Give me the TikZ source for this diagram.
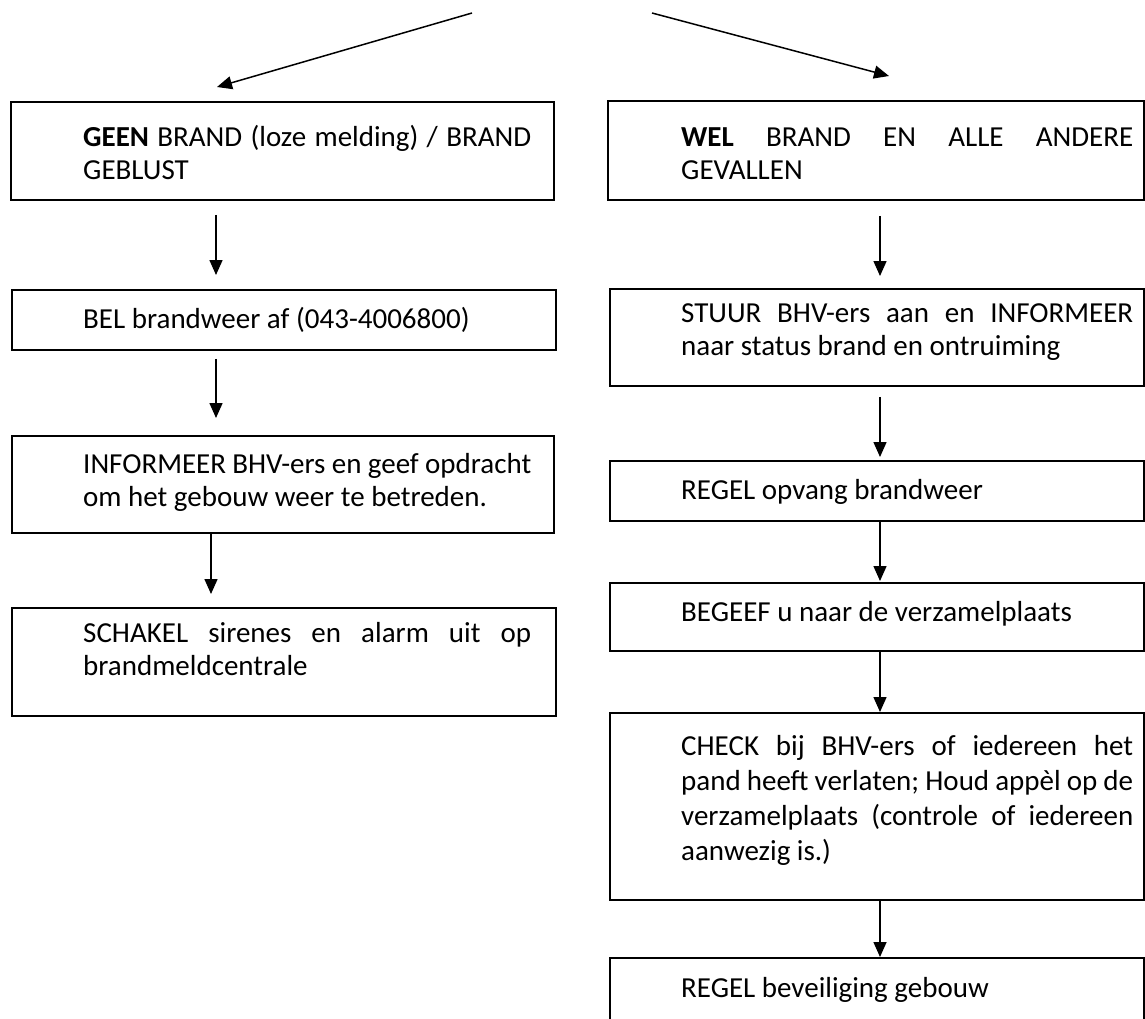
\documentclass[tikz,border=0pt]{standalone}
\usepackage{fontspec}
\setmainfont{Carlito}
\usetikzlibrary{arrows.meta,calc}
\newcommand\myjustL[1]{\hbox to 448pt{#1}}
\newcommand\myjustR[1]{\hbox to 452pt{#1}}
\begin{document}
\begin{tikzpicture}[x=1pt,y=-1pt,
  flowbox/.style={draw, line width=1.8pt, inner sep=0pt, anchor=north west},
  flowarrow/.style={line width=1.5pt, -{Triangle[length=15pt,width=13pt]}},
  flowtext/.style={anchor=base west, inner sep=0pt, font=\fontsize{29}{33}\selectfont}]
\useasboundingbox (0,0) rectangle (1145,1018);
\clip (0,0) rectangle (1145,1018);
\fill[white] (0,0) rectangle (1145,1018);

% boxes
\node[flowbox, minimum width=543pt, minimum height=98pt] (geen) at (10,101) {};
\node[flowbox, minimum width=536pt, minimum height=99pt] (wel) at (607,100) {};
\node[flowbox, minimum width=544pt, minimum height=60pt] (bel) at (11,289) {};
\node[flowbox, minimum width=542pt, minimum height=97pt] (info) at (11,435) {};
\node[flowbox, minimum width=544pt, minimum height=108pt] (schakel) at (11,607) {};
\node[flowbox, minimum width=534pt, minimum height=97pt] (stuur) at (609,288) {};
\node[flowbox, minimum width=534pt, minimum height=60pt] (opvang) at (609,460) {};
\node[flowbox, minimum width=534pt, minimum height=68pt] (begeef) at (609,582) {};
\node[flowbox, minimum width=534pt, minimum height=187pt] (check) at (609,712) {};
\node[flowbox, minimum width=534pt, minimum height=90pt] (bevei) at (609,957) {};

% texts
\node[flowtext] (tgeen) at (83,146) {\vtop{\myjustL{\textbf{GEEN} BRAND (loze melding) / BRAND}\hbox{GEBLUST}}};
\node[flowtext] (twel) at (681,146) {\vtop{\myjustR{\textbf{WEL} BRAND EN ALLE ANDERE}\hbox{GEVALLEN}}};
\node[flowtext] (tbel) at (83,328) {BEL brandweer af (043-4006800)};
\node[flowtext] (tinfo) at (83,473) {\vtop{\myjustL{INFORMEER BHV-ers en geef opdracht}\hbox{om het gebouw weer te betreden.}}};
\node[flowtext] (tschakel) at (83,642) {\vtop{\myjustL{SCHAKEL sirenes en alarm uit op}\hbox{brandmeldcentrale}}};
\node[flowtext] (tstuur) at (681,322) {\vtop{\myjustR{STUUR BHV-ers aan en INFORMEER}\hbox{naar status brand en ontruiming}}};
\node[flowtext] (topvang) at (681,499) {REGEL opvang brandweer};
\node[flowtext] (tbegeef) at (681,621) {BEGEEF u naar de verzamelplaats};
\node[flowtext] (tcheck) at (681,755) {\vtop{\baselineskip=35pt\myjustR{CHECK bij BHV-ers of iedereen het}\myjustR{pand heeft verlaten; Houd appèl op de}\myjustR{verzamelplaats (controle of iedereen}\hbox{aanwezig is.)}}};
\node[flowtext] (tbevei) at (681,997) {REGEL beveiliging gebouw};

% connectors
\coordinate (srcL) at (472,13);
\coordinate (tipL) at (217,87);
\coordinate (srcR) at (652,13);
\coordinate (tipR) at (889,76);
\coordinate (colA) at (216,0);
\coordinate (colB) at (211,0);
\coordinate (colR) at (880,0);
\draw[flowarrow] (srcL) -- (tipL);
\draw[flowarrow] (srcR) -- (tipR);
\draw[flowarrow] ($(geen.south -| colA)+(0,14)$) -- ($(bel.north -| colA)+(0,-14)$);
\draw[flowarrow] ($(bel.south -| colA)+(0,8)$) -- ($(info.north -| colA)+(0,-17)$);
\draw[flowarrow] (info.south -| colB) -- ($(schakel.north -| colB)+(0,-13)$);
\draw[flowarrow] ($(wel.south -| colR)+(0,15)$) -- ($(stuur.north -| colR)+(0,-12)$);
\draw[flowarrow] ($(stuur.south -| colR)+(0,10)$) -- ($(opvang.north -| colR)+(0,-3)$);
\draw[flowarrow] (opvang.south -| colR) -- ($(begeef.north -| colR)+(0,-1)$);
\draw[flowarrow] (begeef.south -| colR) -- (check.north -| colR);
\draw[flowarrow] (check.south -| colR) -- (bevei.north -| colR);
\end{tikzpicture}
\end{document}
